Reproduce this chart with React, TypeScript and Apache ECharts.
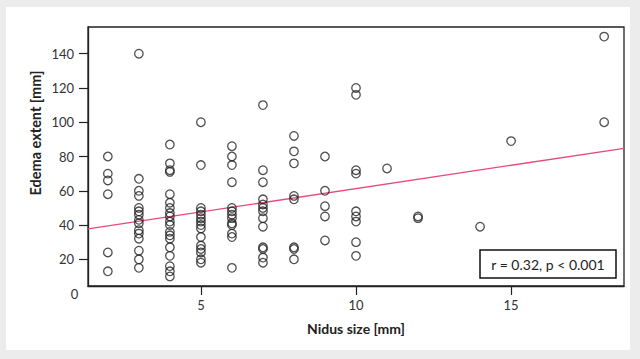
import React, { useEffect, useRef } from "react";
import * as echarts from "echarts";

// Nidus size (x) columns and edema extent (y) values
const col2 = [80, 70, 66, 58, 24, 13];
const col3 = [140, 67, 60, 57, 50, 48, 46, 43, 41, 37, 35, 32, 25, 20, 15];
const col4 = [87, 76, 72, 71, 58, 53, 50, 47, 45, 42, 40, 36, 34, 32, 27, 22, 16, 13, 10];
const col5 = [100, 75, 50, 48, 46, 44, 42, 40, 38, 33, 28, 26, 24, 20, 18];
const col6 = [86, 80, 75, 65, 50, 48, 46, 44, 41, 40, 35, 33, 15];
const col7 = [110, 72, 65, 55, 52, 50, 48, 44, 39, 27, 26, 21, 18];
const col8 = [92, 83, 76, 57, 55, 27, 26, 20];
const col9 = [80, 60, 51, 45, 31];
const col10 = [120, 116, 72, 70, 48, 45, 42, 30, 22];
const col11 = [73];
const col12 = [45, 44];
const col14 = [39];
const col15 = [89];
const col18 = [150, 100];

const columns: [number, number[]][] = [
  [2, col2], [3, col3], [4, col4], [5, col5], [6, col6], [7, col7], [8, col8],
  [9, col9], [10, col10], [11, col11], [12, col12], [14, col14], [15, col15], [18, col18],
];

// Regression line end points (at the plot edges)
const fitLine: [number, number][] = [[1.36, 37.7], [18.64, 84.8]];

const xTicks = [5, 10, 15];
const yTicks = [20, 40, 60, 80, 100, 120, 140];
const statText = "r = 0.32, p < 0.001";

export default function App() {
  const ref = useRef<HTMLDivElement>(null);
  useEffect(() => {
    document.body.style.margin = "0";
    const chart = echarts.init(ref.current!, null, { renderer: "svg" });
    const points: [number, number][] = [];
    columns.forEach(([x, ys]) => ys.forEach((y) => points.push([x, y])));
    const font = "Lato, 'Open Sans', sans-serif";
    chart.setOption({
      animation: false,
      backgroundColor: "transparent",
      grid: {
        left: 88, top: 27, right: 16, bottom: 73,
        show: true, borderColor: "#222", borderWidth: 1.3, backgroundColor: "transparent",
      },
      xAxis: {
        type: "value", min: 1.36, max: 18.64,
        name: "Nidus size [mm]", nameLocation: "middle", nameGap: 35,
        nameTextStyle: { fontFamily: font, fontSize: 14, fontWeight: "bold", color: "#222" },
        axisLine: { show: true, onZero: false, lineStyle: { color: "#222", width: 1.3 } },
        axisTick: { show: true, length: 9, customValues: xTicks, lineStyle: { color: "#222", width: 1.2 } },
        axisLabel: { customValues: xTicks, fontFamily: font, fontSize: 13, color: "#333", margin: 12 },
        splitLine: { show: false },
      },
      yAxis: {
        type: "value", min: 4.4, max: 155.6,
        axisLine: { show: true, onZero: false, lineStyle: { color: "#222", width: 1.3 } },
        axisTick: { show: true, length: 9, customValues: yTicks, lineStyle: { color: "#222", width: 1.2 } },
        axisLabel: { customValues: yTicks, fontFamily: font, fontSize: 13, color: "#333", margin: 14 },
        splitLine: { show: false },
      },
      graphic: [
        {
          type: "text", x: 35, y: 133, rotation: Math.PI / 2,
          style: { text: "Edema extent [mm]", fontFamily: font, fontSize: 14.5, fontWeight: "bold", fill: "#222", align: "center", verticalAlign: "middle" },
        },
        {
          type: "text", x: 74.5, y: 294,
          style: { text: "0", fontFamily: font, fontSize: 13, fill: "#333", align: "center", verticalAlign: "middle" },
        },
        {
          type: "rect", shape: { x: 480, y: 250, width: 136, height: 28 }, z: 10,
          style: { fill: "#fff", stroke: "#111", lineWidth: 1.5 },
        },
        {
          type: "text", x: 548, y: 264.5, z: 11,
          style: { text: statText, fontFamily: font, fontSize: 14, fill: "#222", align: "center", verticalAlign: "middle" },
        },
      ],
      series: [
        {
          type: "line", data: fitLine, showSymbol: false, symbol: "none",
          lineStyle: { color: "#e8497a", width: 1.3 }, z: 3,
        },
        {
          type: "scatter", data: points, symbol: "circle", symbolSize: 8.5,
          itemStyle: { color: "rgba(255,255,255,0)", borderColor: "#222", borderWidth: 1.3 }, z: 4,
        },
      ],
    });
    return () => chart.dispose();
  }, []);
  return (
    <div style={{ position: "relative", width: 640, height: 359, background: "#ececec" }}>
      <div style={{ position: "absolute", left: 6, top: 7, width: 624, height: 343, background: "#fff" }} />
      <div ref={ref} style={{ position: "absolute", left: 0, top: 0, width: 640, height: 359 }} />
    </div>
  );
}
